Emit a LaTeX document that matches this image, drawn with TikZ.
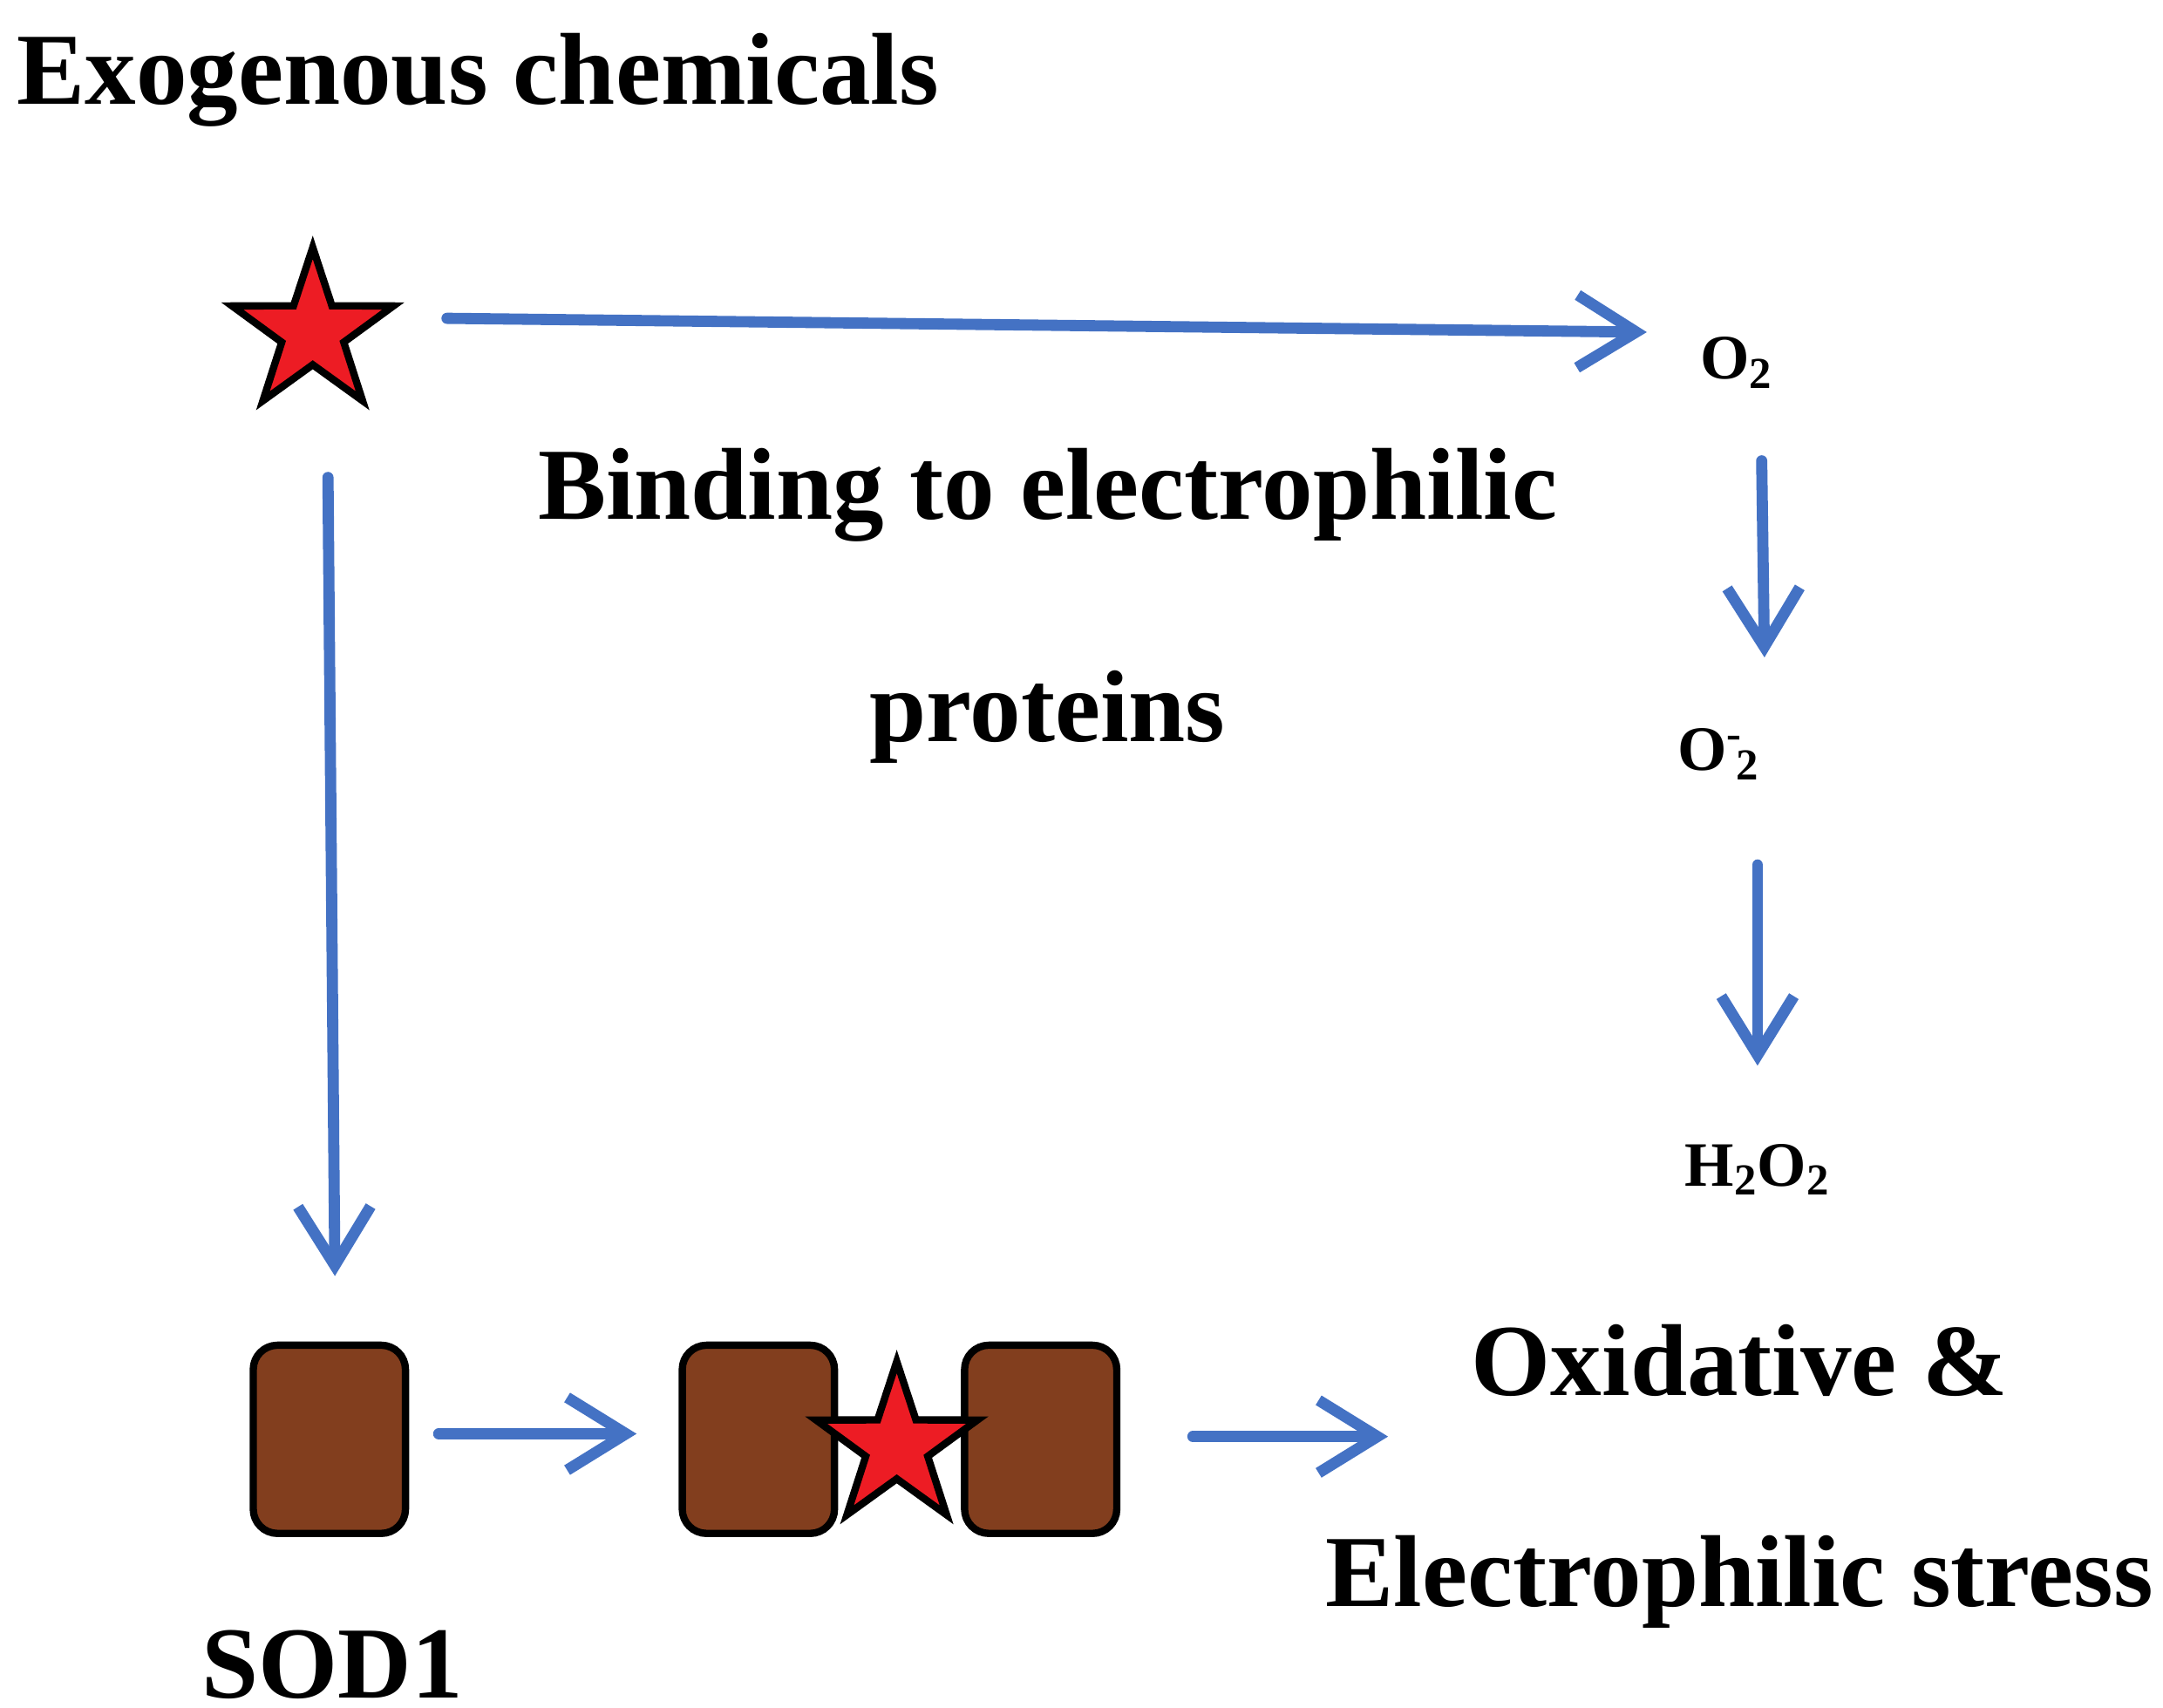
\documentclass[tikz,border=0pt]{standalone}
\usepackage{fontspec}
\setmainfont{Liberation Serif}
\usetikzlibrary{shapes.geometric,arrows.meta}
\definecolor{ab}{RGB}{68,114,196}
\definecolor{br}{RGB}{130,62,30}
\definecolor{rd}{RGB}{237,28,36}
\begin{document}
\begin{tikzpicture}[x=0.02cm,y=-0.02cm,
 arr/.style={draw=ab,line width=4.6pt,line cap=round,line join=round,-{Straight Barb[length=0.85cm,width=1.05cm,line width=4.6pt]}},
 big/.style={font=\fontsize{42}{50}\selectfont\bfseries},
 sm/.style={font=\fontsize{26}{30}\selectfont\bfseries},
 st/.style={star,star points=5,star point ratio=2.6,minimum size=2.45cm,inner sep=0,fill=rd,draw=black,line width=3pt},
 box/.style={draw=black,fill=br,line width=3pt,rounded corners=0.35cm,minimum width=2.2cm,minimum height=2.72cm,inner sep=0}]
\useasboundingbox (0,0) rectangle (1563,1234);
\node[big,anchor=base west] (t) at (6,75) {Exogenous chemicals};
\node[st] (s1) at (226,240) {};
\coordinate (h0) at (323,230);
\node[sm] (o2) at (1255,262) {O\textsubscript{2}};
\node[big] (b1) at (757,358) {Binding to electrophilic};
\node[big] (b2) at (757,518) {proteins};
\node[sm] (o2m) at (1242,545) {O\rlap{\textsuperscript{-}}\hspace{0.15em}\textsubscript{2}};
\node[sm] (h2o2) at (1270,845) {H\textsubscript{2}O\textsubscript{2}};
\node[box] (r1) at (238,1040) {};
\node[box] (r2) at (548,1040) {};
\node[box] (r3) at (752,1040) {};
\node[st] (s2) at (648,1045) {};
\node[big] (ox) at (1257,983) {Oxidative \&};
\node[big] (el) at (1257,1143) {Electrophilic stress};
\node[big] (sod) at (240,1203) {SOD1};
\coordinate (a1) at (1190,240);
\coordinate (v0) at (237,345); \coordinate (v1) at (242,922);
\coordinate (p0) at (1273,333); \coordinate (p1) at (1275,475);
\coordinate (q0) at (1270,625); \coordinate (q1) at (1270,770);
\coordinate (c0) at (317,1036); \coordinate (c1) at (460,1036);
\coordinate (d0) at (862,1038); \coordinate (d1) at (1003,1038);
\draw[arr] (h0) -- (a1);
\draw[arr] (v0) -- (v1);
\draw[arr] (p0) -- (p1);
\draw[arr] (q0) -- (q1);
\draw[arr] (c0) -- (c1);
\draw[arr] (d0) -- (d1);
\end{tikzpicture}
\end{document}
